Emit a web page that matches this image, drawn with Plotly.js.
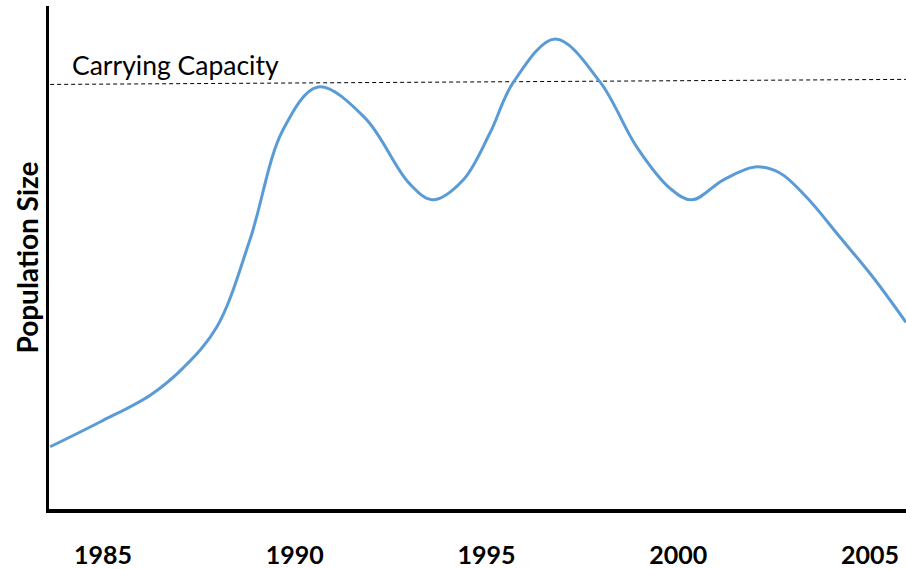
<!DOCTYPE html>
<html>
<head>
<meta charset="utf-8">
<script src="https://cdn.plot.ly/plotly-3.0.1.min.js"></script>
<style>html,body{margin:0;padding:0;background:#fff;}#chart{width:906px;height:569px;}</style>
</head>
<body>
<div id="chart"></div>
<script>
// Population curve
const years = [1983.62, 1984.92, 1986.23, 1987.09, 1987.97, 1988.83, 1989.69, 1990.61,
  1991.83, 1992.98, 1993.60, 1994.39, 1995.09, 1995.69, 1996.79, 1997.96, 1998.92,
  1999.78, 2000.36, 2001.17, 2002.00, 2002.65, 2003.36, 2004.22, 2005.08, 2005.94];
const population = [12.9, 17.8, 23.1, 28.5, 36.6, 53.8, 75.5, 84.0,
  77.9, 65.0, 61.7, 65.6, 74.9, 84.8, 93.5, 85.0, 72.1,
  64.0, 61.7, 65.6, 68.2, 67.0, 62.1, 54.3, 46.4, 37.5];

// Carrying capacity line (slightly sloped in the original)
const capacityYears = [1983.62, 2005.94];
const capacityValues = [84.5, 85.5];
const capacityLabel = "Carrying Capacity";

const tickYears = [1985, 1990, 1995, 2000, 2005];
const tickLabels = ["1985", "1990", "1995", "2000", "2005"];
const yTitle = "Population Size";

const traces = [
  {
    x: capacityYears, y: capacityValues, mode: 'lines', type: 'scatter',
    line: {color: '#000000', width: 1, dash: '4px,3px'}, hoverinfo: 'skip'
  },
  {
    x: years, y: population, mode: 'lines', type: 'scatter',
    line: {color: '#5B9BD5', width: 3, shape: 'spline', smoothing: 1}
  }
];

const layout = {
  width: 906, height: 569,
  margin: {l: 49, r: 0, t: 6, b: 60, pad: 0},
  paper_bgcolor: '#ffffff', plot_bgcolor: '#ffffff',
  showlegend: false,
  xaxis: {
    range: [1983.59, 2005.94],
    showgrid: false, zeroline: false,
    showline: true, linecolor: '#000000', linewidth: 4,
    tickmode: 'array', tickvals: tickYears, ticktext: tickLabels,
    ticks: '', ticklabelstandoff: 21,
    tickfont: {family: 'Lato, "Open Sans", sans-serif', size: 25, color: '#000000', weight: 'bold'}
  },
  yaxis: {
    range: [0.6, 100],
    showgrid: false, zeroline: false,
    showline: true, linecolor: '#000000', linewidth: 3,
    showticklabels: false, ticks: '',
    title: {text: yTitle, standoff: 0,
      font: {family: 'Lato, "Open Sans", sans-serif', size: 28, color: '#000000', weight: 'bold'}}
  },
  annotations: [{
    x: 0.025, xref: 'paper', y: capacityValues[0], yref: 'y',
    xanchor: 'left', yanchor: 'bottom', yshift: 1,
    text: capacityLabel, showarrow: false,
    font: {family: 'Lato, "Open Sans", sans-serif', size: 26.5, color: '#000000'}
  }]
};

Plotly.newPlot('chart', traces, layout, {displayModeBar: false, staticPlot: true});
</script>
</body>
</html>
